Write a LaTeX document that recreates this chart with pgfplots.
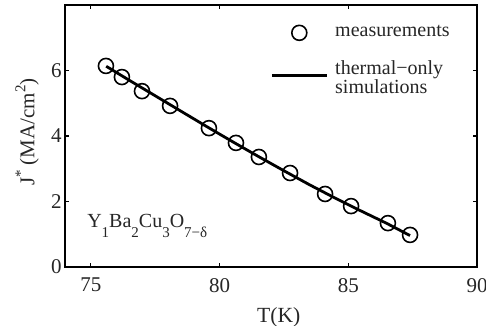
\documentclass[border=0pt]{standalone}
\usepackage{fontspec}
\setmainfont{Liberation Serif}
\usepackage{pgfplots}
\pgfplotsset{compat=1.18}
\pgfplotsset{
  measleg/.style={legend image code/.code={\draw[mark repeat=2,mark phase=2,##1] plot coordinates {(0bp,0bp) (13.75bp,0bp) (27.5bp,0bp)};}},
  lineleg/.style={legend image code/.code={\draw[##1] (0bp,1.5bp) -- (27.5bp,1.5bp);}},
}
\newcommand\lowsub[1]{\raisebox{-5bp}{\fontsize{7.5bp}{7.5bp}\selectfont #1}}
\newcommand\highsup[1]{\raisebox{4.5bp}{\fontsize{7.5bp}{7.5bp}\selectfont #1}}
\begin{document}
\begin{tikzpicture}[font=\fontsize{10bp}{10bp}\selectfont]
\begin{axis}[
  name=ax,
  scale only axis, width=206bp, height=131bp,
  xmin=74, xmax=90, ymin=0, ymax=8,
  xtick={75,80,85,90}, ytick={0,2,4,6},
  tick align=inside, major tick length=2bp,
  axis line style={line width=0.6bp},
  every tick/.style={line width=0.6bp, black},
  /pgf/number format/assume math mode=true,
  tick label style={font=\fontsize{10.5bp}{10.5bp}\selectfont, text=black!85},
  xticklabel style={yshift=-2bp},
  yticklabel style={xshift=1.8bp},
  xlabel={T(K)},
  ylabel={J\highsup{*} (MA/cm\highsup{2})},
  xlabel style={at={(axis description cs:0.519,-0.2137)}, anchor=base, text=black!85, font=\fontsize{10.8bp}{10.8bp}\selectfont},
  ylabel style={at={(axis description cs:-0.092,0.515)}, anchor=center, text=black!85, font=\fontsize{10.5bp}{10.5bp}\selectfont},
  legend style={draw=none, fill=none, at={(axis description cs:0.4976,0.924)},
    anchor=north west, inner sep=0pt, row sep=10bp, column sep=3.5bp,
    nodes={inner sep=0pt, align=left, text=black!85, font=\fontsize{10bp}{9.7bp}\selectfont}},
  legend cell align=left,
]
\addplot[only marks, mark=o, mark size=3.75bp, mark options={line width=0.8bp, black}, black, measleg]
  coordinates {
  (75.59,6.14) (76.21,5.80) (76.99,5.37) (78.08,4.92) (79.59,4.24) (80.64,3.79)
  (81.53,3.36) (82.74,2.87) (84.10,2.23) (85.11,1.86) (86.54,1.34) (87.40,0.98)
  };
\addlegendentry{measurements}
\addplot[black, line width=1.4bp, no marks, lineleg]
  coordinates {
  (75.6,6.13) (76.5,5.70) (77.5,5.23) (78.5,4.76) (79.5,4.29) (80.5,3.83)
  (81.5,3.38) (82.5,2.94) (83.5,2.51) (84.5,2.10) (85.5,1.71) (86.5,1.33) (87.4,0.96)
  };
\addlegendentry{thermal−only\\simulations}
\node[anchor=base west, inner sep=0pt, text=black!85] at (axis cs:74.85,1.22)
  {Y\lowsub{1}Ba\lowsub{2}Cu\lowsub{3}O\lowsub{7−δ}};
\end{axis}
\pgfresetboundingbox
\path (ax.south west) ++(-32.5bp,-29.5bp) rectangle ++(243bp,163bp);
\end{tikzpicture}
\end{document}
